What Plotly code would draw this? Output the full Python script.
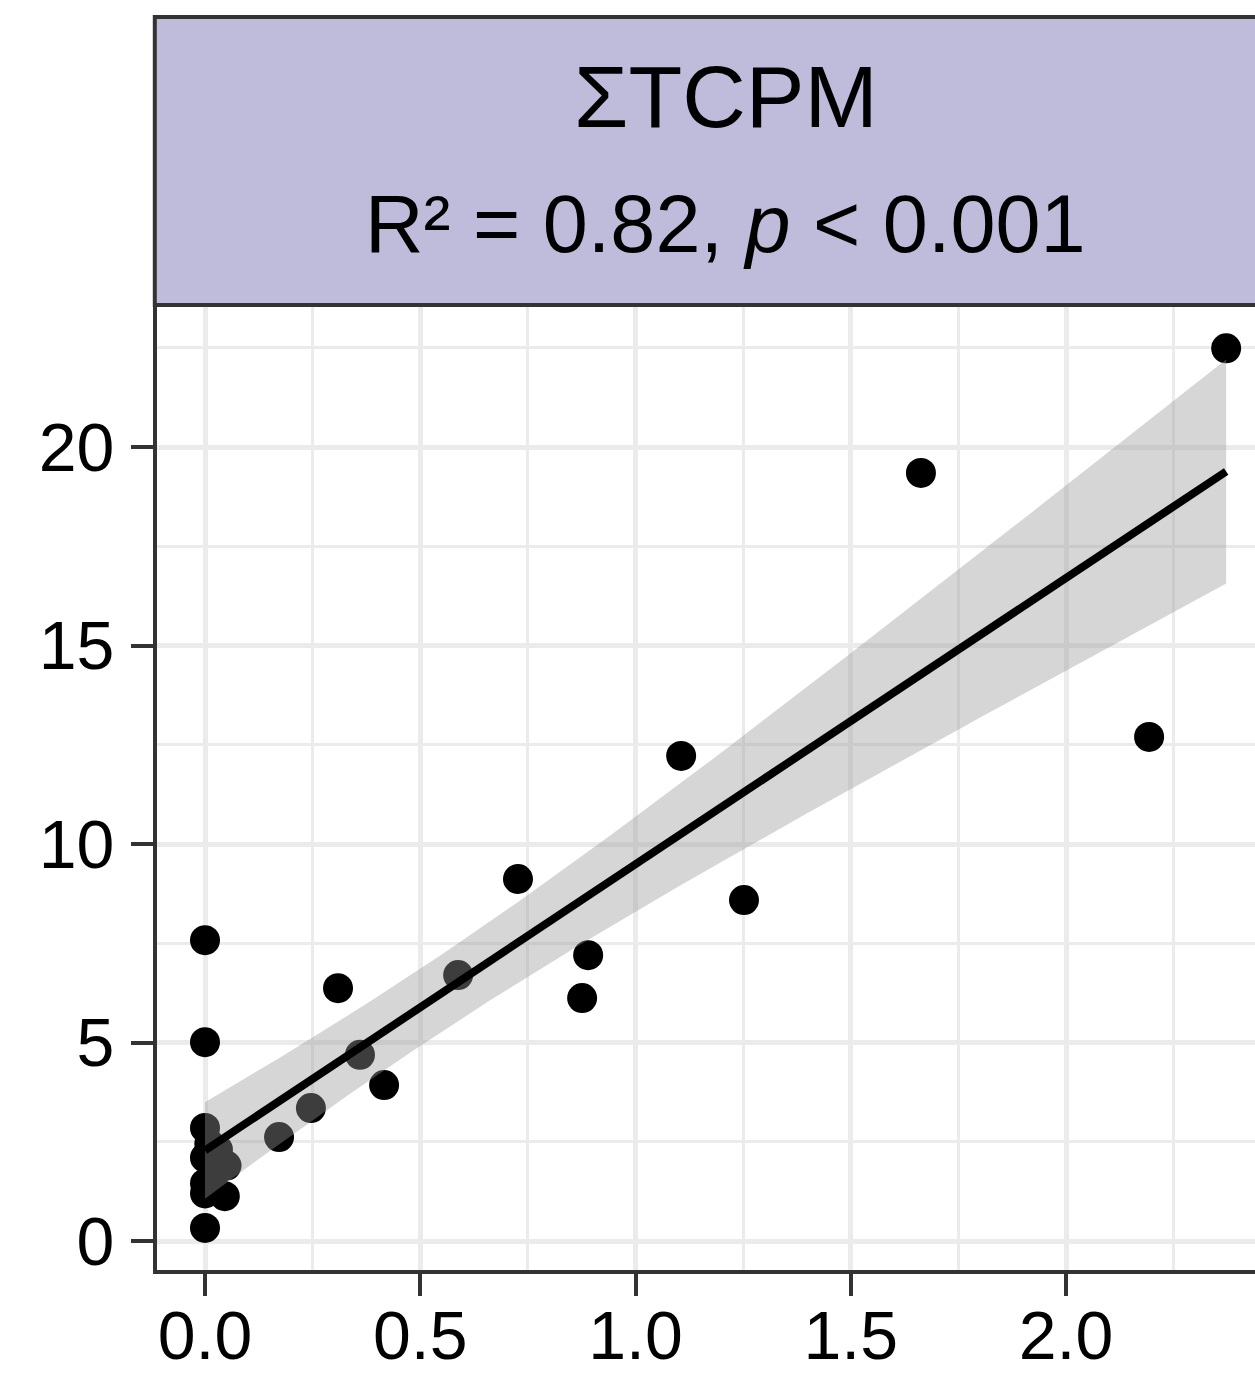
import numpy as np
import plotly.graph_objects as go

# Observations: x = predictor, y = ΣTCPM
x_vals = [2.372, 1.663, 2.193, 1.106, 0.727, 1.252, 0.890, 0.876, 0.0, 0.0,
          0.309, 0.588, 0.360, 0.416, 0.246, 0.172, 0.0, 0.046,
          0.0, 0.01, 0.0, 0.03, 0.05, 0.0, 0.0, 0.02]
y_vals = [22.49, 19.35, 12.70, 12.22, 9.12, 8.59, 7.20, 6.12, 7.58, 5.01,
          6.37, 6.70, 4.69, 3.93, 3.35, 2.62, 0.33, 1.13,
          2.85, 2.45, 2.10, 2.30, 1.90, 1.45, 1.20, 1.65]

x_ticks = [0.0, 0.5, 1.0, 1.5, 2.0]
x_tick_text = ["0.0", "0.5", "1.0", "1.5", "2.0"]
y_ticks = [0, 5, 10, 15, 20]
y_tick_text = ["0", "5", "10", "15", "20"]

strip_title = "ΣTCPM"
strip_stats = "R² = 0.82, <i>p</i> &lt; 0.001"

# two-sided 95% t quantile for df = n - 2 = 24
T_975 = 2.064

# ordinary least squares fit with a 95% confidence band
x = np.array(x_vals)
y = np.array(y_vals)
n = len(x)
slope, intercept = np.polyfit(x, y, 1)
resid = y - (intercept + slope * x)
s = np.sqrt(np.sum(resid ** 2) / (n - 2))
sxx = np.sum((x - x.mean()) ** 2)
xg = np.linspace(x.min(), x.max(), 80)
fit = intercept + slope * xg
se = s * np.sqrt(1.0 / n + (xg - x.mean()) ** 2 / sxx)
upper = fit + T_975 * se
lower = fit - T_975 * se

fig = go.Figure()

fig.add_trace(go.Scatter(
    x=x_vals, y=y_vals, mode="markers",
    marker=dict(size=30, color="black", line=dict(width=0)),
    showlegend=False, hoverinfo="skip",
))

fig.add_trace(go.Scatter(
    x=np.concatenate([xg, xg[::-1]]),
    y=np.concatenate([upper, lower[::-1]]),
    fill="toself", fillcolor="rgba(153,153,153,0.4)",
    line=dict(width=0), mode="lines",
    showlegend=False, hoverinfo="skip",
))

fig.add_trace(go.Scatter(
    x=xg, y=fit, mode="lines",
    line=dict(color="black", width=8),
    showlegend=False, hoverinfo="skip",
))

axis_font = dict(family="Liberation Sans, Arial, sans-serif", size=68, color="black")

fig.update_xaxes(
    range=[-0.1115, 2.439], automargin=False,
    tickvals=x_ticks, ticktext=x_tick_text,
    ticks="outside", ticklen=22, tickwidth=4, tickcolor="#333333",
    tickfont=axis_font, ticklabelstandoff=-19,
    showline=True, linewidth=4, linecolor="#333333",
    showgrid=True, gridcolor="#EBEBEB", gridwidth=5,
    minor=dict(dtick=0.25, tick0=0, showgrid=True, gridcolor="#EBEBEB", gridwidth=3, ticks=""),
    zeroline=False,
)
fig.update_yaxes(
    range=[-0.73, 23.58], automargin=False,
    tickvals=y_ticks, ticktext=y_tick_text,
    ticks="outside", ticklen=22, tickwidth=4, tickcolor="#333333",
    tickfont=axis_font, ticklabelstandoff=3,
    showline=True, linewidth=4, linecolor="#333333",
    showgrid=True, gridcolor="#EBEBEB", gridwidth=5,
    minor=dict(dtick=2.5, tick0=0, showgrid=True, gridcolor="#EBEBEB", gridwidth=3, ticks=""),
    zeroline=False,
)

# facet strip above the panel
fig.add_shape(
    type="rect", xref="paper", yref="paper",
    x0=-0.002, x1=1.02, y0=1.0, y1=1.2984,
    fillcolor="#BEBBDB", line=dict(color="#333333", width=4),
    layer="above",
)

fig.add_annotation(
    text=strip_title, xref="paper", yref="paper", x=0.518, y=1.2165,
    xanchor="center", yanchor="middle", showarrow=False,
    font=dict(family="Liberation Sans, Arial, sans-serif", size=88, color="black"),
)
fig.add_annotation(
    text=strip_stats, xref="paper", yref="paper", x=0.518, y=1.0838,
    xanchor="center", yanchor="middle", showarrow=False,
    font=dict(family="Liberation Sans, Arial, sans-serif", size=81, color="black"),
)

fig.update_layout(
    width=1255, height=1379,
    margin=dict(l=157, r=0, t=305, b=109),
    plot_bgcolor="white", paper_bgcolor="white",
    showlegend=False,
)

fig.write_html("out.html")
